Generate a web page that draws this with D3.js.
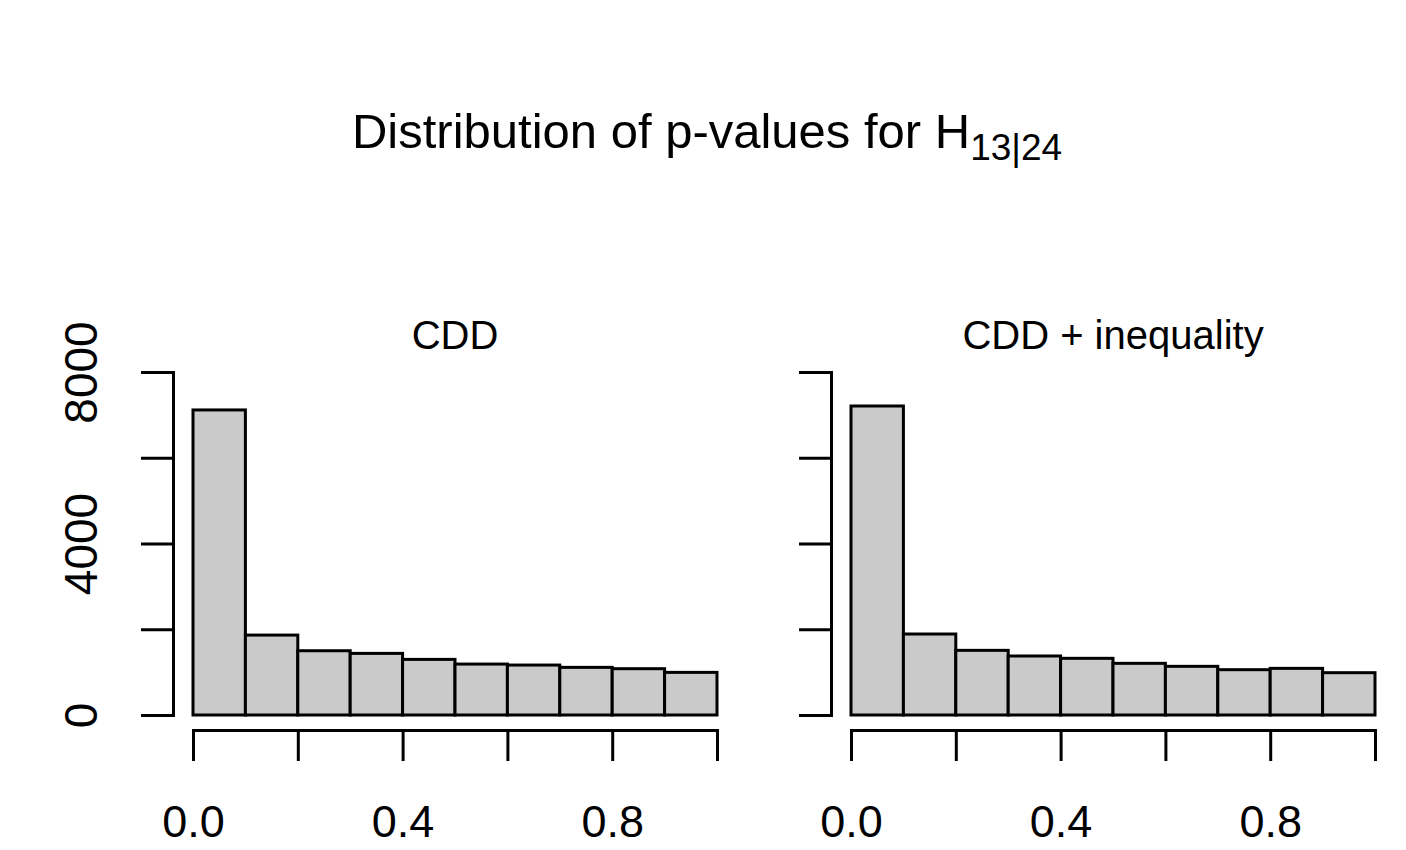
<!DOCTYPE html>
<html>
<head>
<meta charset="utf-8">
<script src="https://cdn.jsdelivr.net/npm/d3@7"></script>
<style>
  body { margin: 0; background: #fff; }
  svg text { font-family: "Liberation Sans", Arial, Helvetica, sans-serif; fill: #000; }
  .axis path, .axis line { stroke: #000; stroke-width: 3; }
</style>
</head>
<body>
<script>
// histogram bins (p-value breaks) and counts
const binEdges = [0.0, 0.1, 0.2, 0.3, 0.4, 0.5, 0.6, 0.7, 0.8, 0.9, 1.0];
const countsCDD = [7115, 1864, 1499, 1437, 1297, 1188, 1165, 1111, 1080, 994];
const countsIneq = [7207, 1889, 1508, 1376, 1322, 1205, 1135, 1057, 1088, 987];
const panelTitles = ["CDD", "CDD + inequality"];
const xTicks = [0.0, 0.2, 0.4, 0.6, 0.8, 1.0];
const xTickLabels = ["0.0", "", "0.4", "", "0.8", ""];
const yTicks = [0, 2000, 4000, 6000, 8000];
const yTickLabels = ["0", "", "4000", "", "8000"];

const W = 1406, H = 850;
let svg = d3.select("body").append("svg")
    .attr("width", W)
    .attr("height", H);

// main title with subscript
let title = svg.append("text")
    .attr("x", 707)
    .attr("y", 148)
    .attr("text-anchor", "middle")
    .style("font-size", "49px");
title.append("tspan").text("Distribution of p-values for H");
title.append("tspan")
    .attr("dy", 12)
    .style("font-size", "37px")
    .text("13|24");

function drawPanel(counts, name, left, showYLabels) {
    let x = d3.scaleLinear().domain([0, 1]).range([left, left + 524]);
    let y = d3.scaleLinear().domain([0, 8000]).range([715, 372]);

    let bins = counts.map((c, i) => ({x0: binEdges[i], x1: binEdges[i + 1], n: c}));

    svg.append("g").selectAll("rect")
        .data(bins)
        .join("rect")
        .attr("x", d => x(d.x0))
        .attr("width", d => x(d.x1) - x(d.x0))
        .attr("y", d => y(d.n))
        .attr("height", d => y(0) - y(d.n))
        .attr("fill", "#cacaca")
        .attr("stroke", "#000")
        .attr("stroke-width", 3);

    // y axis (R style: line only between first and last tick)
    let yAxis = d3.axisLeft(y)
        .tickValues(yTicks)
        .tickSizeOuter(0)
        .tickSize(32)
        .tickFormat((d, i) => showYLabels ? yTickLabels[i] : "");
    let gy = svg.append("g")
        .attr("class", "axis")
        .attr("transform", "translate(" + (left - 20) + ",0)")
        .call(yAxis);
    // labels turned upright along the axis, like R's las=0
    gy.selectAll("text")
        .style("font-size", "46px")
        .attr("text-anchor", "middle")
        .attr("x", 0)
        .attr("y", 0)
        .attr("dy", "0.35em")
        .attr("transform", "translate(-92,0) rotate(-90)");

    // x axis, set below the bars
    let xAxis = d3.axisBottom(x)
        .tickValues(xTicks)
        .tickSizeOuter(0)
        .tickSize(31)
        .tickPadding(44)
        .tickFormat((d, i) => xTickLabels[i]);
    let gx = svg.append("g")
        .attr("class", "axis")
        .attr("transform", "translate(0,730)")
        .call(xAxis);
    gx.selectAll("text")
        .style("font-size", "45px");

    svg.append("text")
        .attr("x", left + 262)
        .attr("y", 349)
        .attr("text-anchor", "middle")
        .style("font-size", "40px")
        .text(name);
}

drawPanel(countsCDD, panelTitles[0], 193, true);
drawPanel(countsIneq, panelTitles[1], 851, false);
</script>
</body>
</html>
